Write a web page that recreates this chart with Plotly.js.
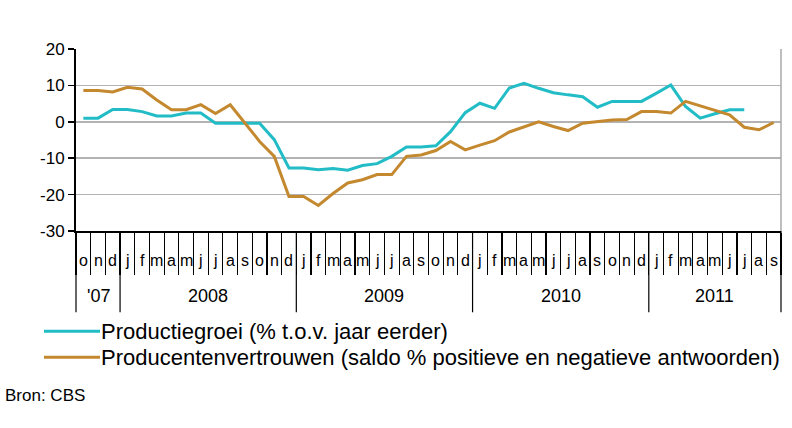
<!DOCTYPE html>
<html>
<head>
<meta charset="utf-8">
<script src="https://cdn.plot.ly/plotly-3.0.1.min.js"></script>
<style>html,body{margin:0;padding:0;background:#fff;}#chart{width:792px;height:428px;}</style>
</head>
<body>
<div id="chart"></div>
<script>
// Months Oct 2007 .. Sep 2011
var monthLabels = ['o','n','d',
  'j','f','m','a','m','j','j','a','s','o','n','d',
  'j','f','m','a','m','j','j','a','s','o','n','d',
  'j','f','m','a','m','j','j','a','s','o','n','d',
  'j','f','m','a','m','j','j','a','s'];
var yearLabels = ["'07", '2008', '2009', '2010', '2011'];
var yearStarts = [0, 3, 15, 27, 39, 48]; // month-index boundaries

var productiegroei = [1.0, 1.0, 3.4,
  3.4, 2.8, 1.6, 1.6, 2.4, 2.4, -0.4, -0.4, -0.4, -0.4, -4.9, -12.7,
  -12.7, -13.2, -12.8, -13.3, -12.0, -11.5, -9.5, -6.9, -6.9, -6.6, -2.7, 2.5,
  5.1, 3.7, 9.3, 10.6, 9.2, 8.0, 7.4, 6.9, 4.0, 5.6, 5.6, 5.6,
  7.8, 10.1, 4.2, 1.0, 2.2, 3.3, 3.3];
var producentenvertrouwen = [8.6, 8.6, 8.2,
  9.5, 9.0, 6.0, 3.3, 3.3, 4.7, 2.3, 4.7, -0.5, -5.4, -9.5, -20.5,
  -20.5, -23.0, -19.7, -16.8, -15.9, -14.5, -14.5, -9.5, -9.1, -7.9, -5.4, -7.7,
  -6.4, -5.2, -2.8, -1.3, 0.0, -1.3, -2.4, -0.4, 0.1, 0.5, 0.6, 2.8,
  2.8, 2.4, 5.6, 4.4, 3.0, 1.9, -1.5, -2.2, -0.2];
var seriesNames = ['Productiegroei (% t.o.v. jaar eerder)',
  'Producentenvertrouwen (saldo % positieve en negatieve antwoorden)'];
var seriesColors = ['#22bcc6', '#c4882f'];
var yTicks = [-30, -20, -10, 0, 10, 20];
var yTickText = ['-30', '-20', '-10', '0', '10', '20'];
var source = 'Bron: CBS';

var nMonths = monthLabels.length;
function xs(arr) { return arr.map(function (_, i) { return i + 0.5; }); }

var traces = [
  {x: xs(productiegroei), y: productiegroei, name: seriesNames[0], type: 'scatter', mode: 'lines',
   line: {color: seriesColors[0], width: 3}, showlegend: false},
  {x: xs(producentenvertrouwen), y: producentenvertrouwen, name: seriesNames[1], type: 'scatter', mode: 'lines',
   line: {color: seriesColors[1], width: 3}, showlegend: false}
];

var font = {family: 'Liberation Sans, Arial, sans-serif', color: '#000'};
var W = 792, H = 428, L = 76, R = 781, T = 49, B = 231.5;
var pw = R - L, ph = B - T;
function px2x(p) { return (p - L) / pw; }
function py2y(p) { return (B - p) / ph; }

var annotations = [];
monthLabels.forEach(function (m, i) {
  annotations.push({x: i + 0.5, xref: 'x', y: py2y(261), yref: 'paper', text: m, showarrow: false,
    font: Object.assign({size: 16}, font), xanchor: 'center', yanchor: 'middle'});
});
yearLabels.forEach(function (yl, k) {
  annotations.push({x: (yearStarts[k] + yearStarts[k + 1]) / 2, xref: 'x', y: py2y(297), yref: 'paper', text: yl,
    showarrow: false, font: Object.assign({size: 18}, font), xanchor: 'center', yanchor: 'middle'});
});
var legendY = [332, 358];
var shapes = [];
seriesNames.forEach(function (n, k) {
  shapes.push({type: 'line', xref: 'paper', yref: 'paper', x0: px2x(44), x1: px2x(100), y0: py2y(legendY[k]), y1: py2y(legendY[k]),
    line: {color: seriesColors[k], width: 3}});
  annotations.push({x: px2x(99), xref: 'paper', y: py2y(legendY[k]), yref: 'paper', text: n, showarrow: false,
    font: Object.assign({size: 22}, font), xanchor: 'left', yanchor: 'middle'});
});
annotations.push({x: px2x(3), xref: 'paper', y: py2y(396), yref: 'paper', text: source, showarrow: false,
  font: Object.assign({size: 17}, font), xanchor: 'left', yanchor: 'middle'});

yearStarts.forEach(function (b) {
  shapes.push({type: 'line', xref: 'paper', yref: 'paper', x0: b / nMonths, x1: b / nMonths, y0: 0, y1: py2y(313),
    line: {color: '#000', width: 1.2}});
});
// right border of plot area
shapes.push({type: 'line', xref: 'paper', yref: 'paper', x0: 1, x1: 1, y0: 0, y1: 1, line: {color: '#a8a8a8', width: 1.5}});

var tickIdx = [];
for (var i = 0; i <= nMonths; i++) tickIdx.push(i);

var layout = {
  width: W, height: H,
  margin: {l: L, r: W - R, t: T, b: H - B, pad: 0},
  paper_bgcolor: '#fff', plot_bgcolor: '#fff',
  font: Object.assign({size: 16}, font),
  showlegend: false,
  xaxis: {range: [0, nMonths], tickvals: tickIdx, showticklabels: false, ticks: 'outside', ticklen: 42,
    tickwidth: 1.2, tickcolor: '#000', showgrid: false, zeroline: false, showline: true, linecolor: '#000', linewidth: 2,
    fixedrange: true},
  yaxis: {range: [-30, 20], tickvals: yTicks, ticktext: yTickText, ticks: 'outside', ticklen: 6, tickwidth: 1.5, tickcolor: '#000',
    showgrid: true, gridcolor: '#b3b3b3', gridwidth: 1.5, zeroline: false, showline: true, linecolor: '#000',
    linewidth: 2, tickfont: Object.assign({size: 17}, font), fixedrange: true},
  annotations: annotations,
  shapes: shapes
};

Plotly.newPlot('chart', traces, layout, {staticPlot: true, displayModeBar: false});
</script>
</body>
</html>
